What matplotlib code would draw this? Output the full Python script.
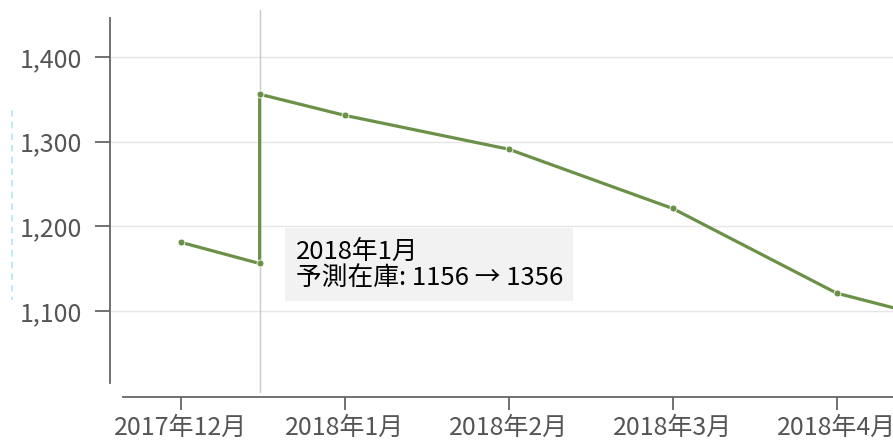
import matplotlib
matplotlib.use("Agg")
import matplotlib.pyplot as plt
from matplotlib.lines import Line2D

plt.rcParams['font.family'] = ['Noto Sans CJK JP', 'DejaVu Sans']

# months counted from 2017-12 (0); the jump point sits mid-December
month_labels = ['2017年12月', '2018年1月', '2018年2月', '2018年3月', '2018年4月']
month_pos = [0, 1, 2, 3, 4]
x_vals = [0, 0.48, 0.48, 1, 2, 3, 4, 5]
stock = [1181, 1156, 1356, 1331, 1291, 1221, 1121, 1071]
y_ticks = [1100, 1200, 1300, 1400]

hover_x = 0.48
hover_from, hover_to = 1156, 1356
hover_label = '2018年1月'

green = '#6a9147'
axis_col = '#666666'
label_col = '#555555'

fig = plt.figure(figsize=(8.93, 4.48), dpi=100)
W, H = 893, 448
ax = fig.add_axes([110 / W, 1 - 393 / H, 783 / W, 383 / H])

ax.set_xlim(-0.433, 4.344)
ax.set_ylim(1003, 1455.5)

ax.plot(x_vals, stock, color=green, lw=2.3, marker='o', ms=5,
        mec='white', mew=0.6, solid_joinstyle='round', zorder=3)

# hover cursor
ax.axvline(hover_x, color='#c8c8c8', lw=1, zorder=1)

for y in y_ticks:
    ax.axhline(y, color='#e6e6e6', lw=1, zorder=0)

for s in ['top', 'right']:
    ax.spines[s].set_visible(False)
ax.spines['left'].set_color(axis_col)
ax.spines['left'].set_linewidth(1.3)
ax.spines['left'].set_bounds(1015, 1446)
ax.spines['bottom'].set_color(axis_col)
ax.spines['bottom'].set_linewidth(1.3)
ax.spines['bottom'].set_position(('outward', 3))
ax.spines['bottom'].set_bounds(-0.354, 4.344)

ax.set_yticks(y_ticks)
ax.set_yticklabels([f'{v:,}' for v in y_ticks])
ax.set_xticks(month_pos)
ax.set_xticklabels(month_labels)
ax.tick_params(axis='y', length=11, width=1.3, color=axis_col, pad=9,
               labelsize=18, labelcolor=label_col)
ax.tick_params(axis='x', length=9.5, width=1.3, color=axis_col, pad=3,
               labelsize=18, labelcolor=label_col)

ax.annotate(f'{hover_label}\n予測在庫: {hover_from} → {hover_to}',
            xy=(hover_x, hover_from), xytext=(36, 25), textcoords='offset pixels',
            ha='left', va='top', fontsize=18.5, color='black', linespacing=1.0,
            bbox=dict(boxstyle='square,pad=0.4', fc='#f2f2f2', ec='none'),
            zorder=5)

# stray dashed guide at the far left
fig.add_artist(Line2D([12 / W, 12 / W], [1 - 110 / H, 1 - 300 / H],
                      color='#b4e6f8', lw=1.2, ls=(0, (4, 3))))

fig.savefig('out.png', dpi=100)
